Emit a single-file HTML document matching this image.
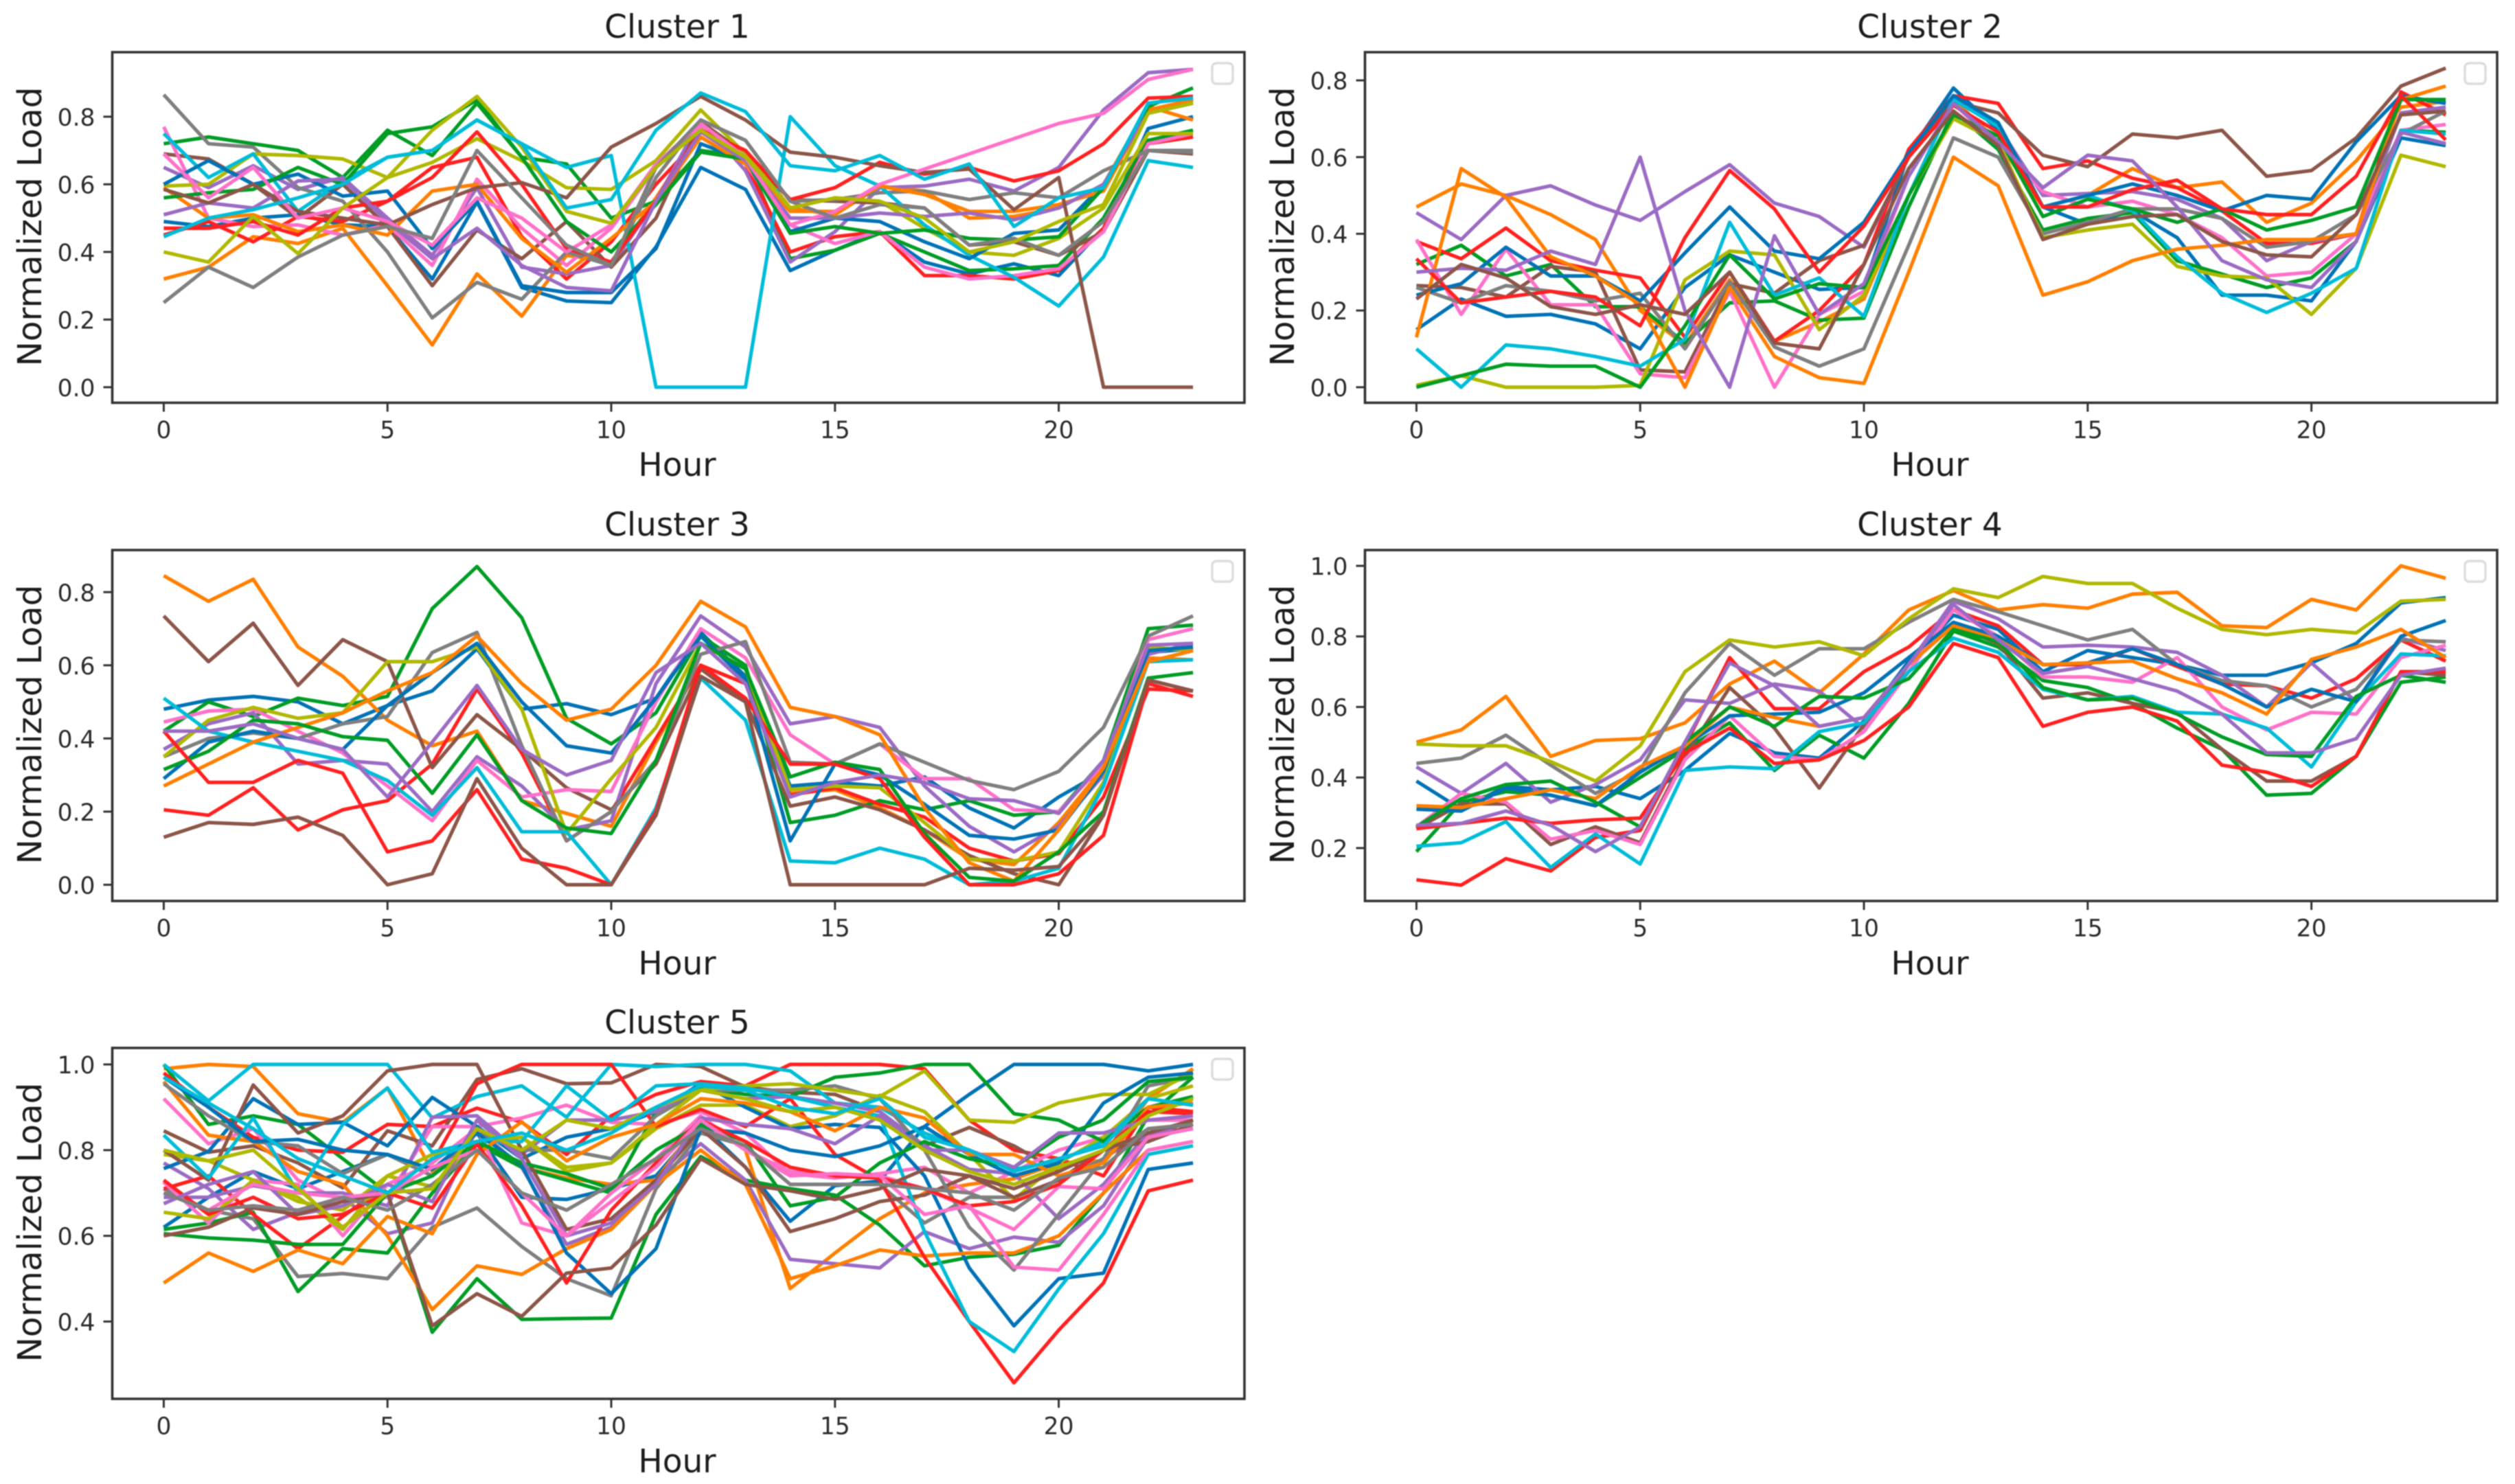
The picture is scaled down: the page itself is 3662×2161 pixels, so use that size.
<!DOCTYPE html>
<html lang="en">
<head>
<meta charset="utf-8">
<title>Normalized Load Clusters</title>
<style>
html,body{margin:0;padding:0;background:#fff;width:3662px;height:2161px;overflow:hidden}
svg{display:block;filter:blur(0.7px)}
text{font-family:"DejaVu Sans","Liberation Sans",sans-serif;fill:#1c1c1c}
.title,.xlabel{font-size:47px;text-anchor:middle}
.ylabel{font-size:48.5px;text-anchor:middle}
.tick{font-size:34.5px;fill:#2a2a2a}
.frame{fill:none;stroke:#333;stroke-width:3.6}
.legend{fill:#fff;stroke:#dcdcdc;stroke-width:3.4}
</style>
</head>
<body>
<svg id="chart" xmlns="http://www.w3.org/2000/svg" width="3662" height="2161" viewBox="0 0 3662 2161">
<rect x="0" y="0" width="3662" height="2161" fill="#fff"/>
<g id="plots"></g>
<g>
<text class="title" x="986" y="55">Cluster 1</text>
<text class="xlabel" x="986" y="693">Hour</text>
<text class="ylabel" transform="translate(60 330) rotate(-90)">Normalized Load</text>
</g>
<g>
<text class="title" x="2810" y="55">Cluster 2</text>
<text class="xlabel" x="2810" y="693">Hour</text>
<text class="ylabel" transform="translate(1884 330) rotate(-90)">Normalized Load</text>
</g>
<g>
<text class="title" x="986" y="780">Cluster 3</text>
<text class="xlabel" x="986" y="1419">Hour</text>
<text class="ylabel" transform="translate(60 1055) rotate(-90)">Normalized Load</text>
</g>
<g>
<text class="title" x="2810" y="780">Cluster 4</text>
<text class="xlabel" x="2810" y="1419">Hour</text>
<text class="ylabel" transform="translate(1884 1055) rotate(-90)">Normalized Load</text>
</g>
<g>
<text class="title" x="986" y="1505">Cluster 5</text>
<text class="xlabel" x="986" y="2144">Hour</text>
<text class="ylabel" transform="translate(60 1780) rotate(-90)">Normalized Load</text>
</g>
</svg>
<script>
const hours = [0,1,2,3,4,5,6,7,8,9,10,11,12,13,14,15,16,17,18,19,20,21,22,23];
const xTickValues = [0,5,10,15,20];
const xAxisMin = -1.15;
const xAxisMax = 24.15;
const yAxisMin = [-0.046,-0.0405,-0.0443,0.05,0.2196];
const yAxisMax = [0.9907,0.8735,0.915,1.0448,1.0385];
const cluster1Ticks = [0,0.2,0.4,0.6,0.8];
const cluster2Ticks = [0,0.2,0.4,0.6,0.8];
const cluster3Ticks = [0,0.2,0.4,0.6,0.8];
const cluster4Ticks = [0.2,0.4,0.6,0.8,1.0];
const cluster5Ticks = [0.4,0.6,0.8,1.0];

const cluster1Series = [
[.49,.475,.50,.51,.48,.475,.32,.548,.295,.255,.25,.415,.65,.585,.345,.405,.46,.37,.335,.365,.33,.47,.765,.80],
[.32,.355,.445,.425,.47,.30,.125,.335,.21,.39,.37,.56,.76,.70,.53,.51,.595,.58,.50,.505,.53,.60,.83,.79],
[.72,.74,.72,.70,.62,.76,.685,.84,.68,.66,.50,.55,.70,.68,.38,.405,.455,.40,.345,.35,.36,.50,.73,.76],
[.45,.49,.43,.505,.49,.55,.65,.68,.445,.32,.43,.60,.74,.66,.40,.445,.46,.33,.33,.32,.345,.47,.72,.74],
[.65,.59,.655,.585,.62,.50,.39,.59,.355,.335,.36,.55,.79,.64,.37,.46,.59,.595,.615,.58,.65,.82,.93,.94],
[.69,.675,.60,.50,.60,.475,.30,.465,.38,.49,.355,.50,.785,.69,.555,.55,.545,.53,.42,.43,.39,.46,.70,.69],
[.77,.50,.475,.48,.45,.48,.36,.615,.47,.36,.47,.65,.77,.66,.48,.425,.46,.355,.32,.33,.35,.46,.72,.75],
[.865,.72,.71,.59,.55,.40,.205,.31,.26,.40,.36,.62,.79,.73,.55,.555,.575,.58,.555,.575,.56,.64,.70,.70],
[.595,.60,.69,.685,.675,.62,.665,.735,.67,.59,.585,.67,.82,.69,.53,.56,.55,.47,.40,.39,.44,.53,.75,.75],
[.75,.62,.69,.52,.61,.68,.70,.79,.72,.65,.685,0,0,0,.80,.655,.595,.48,.39,.325,.24,.385,.67,.65],
[.60,.67,.60,.63,.565,.58,.41,.55,.30,.28,.28,.41,.72,.67,.46,.50,.49,.43,.38,.455,.465,.60,.81,.85],
[.59,.50,.51,.46,.48,.45,.58,.60,.44,.34,.44,.55,.74,.66,.52,.52,.595,.57,.52,.52,.54,.58,.82,.85],
[.56,.575,.585,.65,.60,.75,.77,.85,.68,.49,.40,.54,.695,.675,.455,.475,.455,.465,.44,.435,.445,.59,.83,.885],
[.47,.47,.49,.45,.53,.55,.62,.755,.60,.41,.37,.55,.76,.70,.555,.59,.665,.63,.65,.61,.64,.72,.855,.86],
[.51,.545,.53,.61,.615,.49,.38,.47,.36,.295,.285,.55,.755,.67,.50,.50,.515,.505,.515,.495,.53,.60,.81,.84],
[.585,.545,.60,.52,.50,.48,.54,.59,.605,.56,.71,.78,.86,.79,.695,.68,.655,.635,.645,.525,.62,0,0,0],
[.69,.56,.65,.50,.53,.49,.42,.56,.50,.40,.48,.66,.78,.68,.48,.52,.60,.645,.69,.735,.78,.81,.91,.94],
[.25,.355,.295,.385,.45,.475,.44,.70,.56,.42,.36,.65,.79,.73,.55,.50,.54,.53,.42,.44,.39,.49,.70,.695],
[.40,.37,.505,.395,.53,.62,.76,.86,.71,.52,.485,.65,.76,.68,.53,.56,.55,.50,.40,.43,.49,.54,.81,.84],
[.445,.50,.525,.56,.60,.68,.70,.79,.72,.53,.555,.76,.87,.815,.655,.64,.685,.615,.66,.475,.56,.59,.84,.855]
];

const cluster2Series = [
[.15,.23,.185,.19,.165,.10,.26,.345,.30,.255,.26,.61,.78,.67,.47,.425,.46,.39,.24,.24,.225,.38,.65,.63],
[.47,.53,.50,.45,.385,.20,.11,.28,.12,.17,.23,.50,.75,.64,.47,.50,.57,.52,.535,.43,.48,.59,.73,.745],
[.32,.37,.29,.32,.21,.21,.115,.22,.225,.175,.18,.47,.72,.62,.41,.44,.455,.33,.295,.26,.285,.38,.67,.665],
[.38,.335,.415,.33,.305,.285,.13,.30,.12,.20,.32,.62,.76,.74,.57,.59,.545,.52,.46,.375,.375,.40,.77,.71],
[.455,.385,.50,.525,.475,.435,.51,.58,.48,.445,.365,.60,.76,.68,.50,.505,.51,.49,.44,.33,.38,.40,.715,.73],
[.265,.26,.235,.315,.30,.045,.04,.27,.245,.33,.37,.60,.745,.715,.605,.575,.66,.65,.67,.55,.565,.65,.785,.832],
[.385,.19,.36,.215,.215,.035,.025,.25,0,.19,.25,.55,.74,.63,.51,.47,.485,.45,.39,.29,.30,.40,.67,.685],
[.26,.22,.265,.25,.225,.245,.10,.275,.105,.055,.10,.37,.65,.60,.40,.43,.465,.465,.44,.365,.38,.45,.66,.72],
[.005,.03,0,0,0,.005,.28,.355,.345,.15,.24,.50,.70,.64,.39,.41,.425,.315,.29,.285,.19,.31,.605,.575],
[.10,0,.11,.10,.08,.055,.125,.43,.24,.285,.185,.50,.75,.68,.47,.50,.46,.34,.245,.195,.245,.31,.67,.66],
[.24,.27,.365,.29,.29,.225,.35,.47,.355,.335,.43,.61,.76,.69,.47,.50,.53,.50,.46,.50,.49,.64,.76,.74],
[.13,.57,.495,.34,.29,.215,0,.26,.08,.025,.01,.30,.60,.525,.24,.275,.33,.36,.37,.385,.385,.40,.75,.785],
[0,.03,.06,.055,.055,0,.16,.345,.23,.27,.26,.50,.71,.655,.445,.49,.465,.43,.465,.41,.435,.47,.75,.75],
[.335,.22,.235,.25,.235,.16,.39,.565,.465,.30,.42,.60,.735,.665,.47,.47,.515,.54,.465,.45,.45,.55,.76,.645],
[.30,.31,.305,.355,.32,.60,.20,0,.395,.19,.27,.55,.74,.64,.52,.605,.59,.47,.33,.28,.26,.38,.665,.635],
[.23,.32,.285,.21,.19,.215,.19,.30,.115,.10,.32,.57,.72,.63,.385,.425,.445,.45,.38,.345,.34,.45,.71,.72]
];

const cluster3Series = [
[.48,.505,.515,.50,.44,.49,.53,.645,.48,.495,.465,.51,.69,.57,.27,.28,.27,.295,.21,.155,.24,.31,.635,.645],
[.845,.775,.835,.65,.57,.45,.38,.42,.23,.195,.16,.39,.60,.55,.25,.26,.21,.15,.07,.055,.17,.32,.62,.615],
[.42,.50,.46,.51,.49,.515,.755,.87,.73,.455,.385,.47,.68,.60,.17,.19,.23,.205,.23,.19,.20,.34,.70,.71],
[.205,.19,.265,.15,.205,.23,.33,.535,.36,.12,.20,.40,.60,.55,.245,.265,.22,.185,.10,.065,.085,.24,.535,.53],
[.37,.44,.47,.33,.34,.33,.20,.35,.27,.15,.175,.55,.735,.65,.44,.46,.43,.27,.16,.09,.16,.30,.63,.66],
[.735,.61,.715,.545,.67,.61,.32,.465,.37,.265,.205,.33,.59,.50,.215,.24,.205,.15,.08,.03,0,.19,.56,.53],
[.445,.475,.48,.42,.36,.27,.175,.34,.24,.26,.255,.50,.70,.62,.41,.33,.385,.29,.29,.205,.20,.33,.67,.70],
[.35,.40,.415,.40,.44,.46,.635,.69,.38,.12,.20,.34,.63,.665,.335,.33,.385,.335,.285,.26,.31,.43,.68,.735],
[.35,.45,.485,.455,.47,.61,.61,.65,.48,.14,.29,.43,.66,.59,.26,.27,.265,.17,.07,.065,.09,.28,.65,.64],
[.51,.42,.39,.365,.34,.285,.19,.32,.145,.145,0,.21,.565,.45,.065,.06,.10,.07,0,.01,.045,.27,.61,.615],
[.29,.39,.42,.40,.37,.49,.58,.66,.50,.38,.36,.51,.68,.56,.12,.33,.30,.22,.135,.125,.15,.31,.64,.65],
[.27,.33,.39,.43,.47,.53,.58,.68,.55,.45,.48,.60,.775,.705,.485,.46,.41,.21,.06,.01,.15,.32,.61,.64],
[.315,.365,.45,.44,.405,.395,.25,.41,.23,.155,.14,.34,.66,.59,.295,.335,.315,.14,.02,.01,.09,.20,.565,.58],
[.42,.28,.28,.34,.305,.09,.12,.26,.07,.045,0,.20,.60,.51,.33,.33,.29,.13,0,0,.03,.135,.55,.515],
[.42,.42,.44,.40,.37,.24,.39,.545,.37,.30,.34,.58,.66,.55,.24,.28,.30,.28,.235,.23,.195,.34,.655,.66],
[.13,.17,.165,.185,.135,0,.03,.29,.10,0,0,.19,.57,.50,0,0,0,0,.045,.04,.05,.19,.56,.53]
];

const cluster4Series = [
[.39,.31,.375,.365,.375,.34,.42,.525,.47,.455,.56,.73,.86,.82,.70,.76,.74,.72,.69,.69,.725,.78,.895,.91],
[.50,.535,.63,.46,.505,.51,.555,.665,.73,.64,.75,.875,.93,.875,.89,.88,.92,.925,.83,.825,.905,.875,1.0,.965],
[.19,.33,.36,.35,.32,.40,.48,.555,.42,.52,.455,.61,.815,.77,.675,.655,.61,.54,.48,.35,.355,.46,.67,.685],
[.11,.095,.17,.135,.23,.25,.49,.74,.595,.595,.70,.77,.875,.83,.72,.72,.765,.715,.665,.66,.625,.68,.79,.73],
[.43,.355,.44,.33,.38,.45,.62,.61,.665,.645,.54,.72,.90,.85,.77,.775,.77,.755,.69,.60,.725,.615,.795,.76],
[.255,.325,.325,.21,.26,.215,.46,.655,.54,.37,.55,.72,.83,.78,.625,.64,.61,.585,.48,.39,.39,.46,.70,.69],
[.26,.355,.33,.225,.25,.21,.45,.575,.46,.45,.53,.70,.875,.80,.685,.685,.67,.74,.60,.535,.585,.58,.74,.775],
[.44,.455,.52,.435,.355,.42,.64,.78,.69,.765,.765,.84,.905,.87,.83,.79,.82,.72,.675,.66,.60,.65,.79,.785],
[.495,.49,.49,.445,.39,.49,.70,.79,.77,.785,.745,.85,.935,.91,.97,.95,.95,.88,.82,.805,.82,.81,.90,.905],
[.205,.215,.275,.145,.24,.155,.42,.43,.425,.53,.555,.70,.795,.755,.65,.62,.63,.585,.58,.54,.43,.615,.75,.745],
[.31,.305,.37,.35,.32,.415,.49,.575,.58,.585,.64,.74,.84,.80,.72,.725,.765,.72,.665,.60,.65,.615,.80,.845],
[.32,.315,.34,.365,.34,.43,.49,.60,.57,.545,.57,.72,.83,.79,.72,.725,.73,.68,.64,.58,.735,.77,.82,.74],
[.26,.34,.38,.39,.33,.26,.50,.60,.545,.63,.625,.68,.82,.785,.655,.62,.625,.58,.515,.465,.46,.63,.69,.67],
[.255,.27,.285,.27,.28,.285,.47,.54,.44,.45,.505,.60,.78,.74,.545,.585,.60,.56,.435,.415,.375,.46,.70,.70],
[.265,.27,.305,.265,.19,.26,.50,.725,.66,.545,.57,.72,.89,.79,.695,.715,.68,.645,.58,.47,.47,.51,.69,.71]
];

const cluster5Series = [
[.62,.69,.75,.71,.75,.79,.74,.84,.69,.685,.71,.74,.86,.76,.634,.717,.728,.855,.93,1,1,1,.985,1],
[.99,1,.995,.885,.865,.945,.75,.815,.76,.735,.72,.73,.87,.80,.477,.56,.64,.70,.72,.733,.77,.775,.92,.99],
[1,.86,.88,.86,.78,.70,.375,.50,.405,.407,.408,.65,.785,.73,.71,.695,.625,.53,.55,.557,.578,.70,.88,.97],
[.98,.90,.83,.80,.795,.86,.855,.898,.865,.79,.88,.93,.96,.95,1,1,1,.99,.87,.80,.78,.74,.90,.89],
[.77,.71,.615,.655,.69,.605,.63,.85,.76,.58,.62,.73,.815,.73,.545,.535,.525,.61,.57,.597,.585,.67,.83,.87],
[.845,.795,.81,.77,.712,.845,.81,.965,.99,.955,.957,1,.995,.947,.935,.93,.89,.81,.853,.81,.75,.80,.83,.87],
[.92,.815,.85,.73,.68,.69,.855,.855,.875,.905,.865,.86,.89,.84,.745,.735,.745,.76,.70,.75,.80,.83,.87,.87],
[.71,.66,.64,.505,.512,.50,.62,.665,.575,.50,.46,.71,.84,.81,.72,.72,.72,.63,.69,.69,.73,.78,.85,.86],
[.79,.775,.73,.68,.66,.74,.715,.82,.83,.76,.77,.85,.905,.905,.855,.88,.928,.89,.79,.685,.77,.83,.92,.95],
[1,.915,1,1,1,1,.875,.925,.95,.877,1,.995,1,1,.985,.91,.90,.84,.80,.755,.775,.82,.92,.905],
[.757,.797,.92,.86,.865,.81,.923,.855,.78,.83,.85,.89,.955,.90,.85,.86,.853,.74,.525,.39,.50,.513,.755,.77],
[.96,.835,.82,.75,.72,.60,.428,.53,.51,.57,.615,.72,.80,.72,.50,.53,.567,.553,.56,.56,.60,.70,.80,.82],
[.615,.63,.655,.47,.57,.56,.70,.815,.76,.73,.70,.89,.945,.93,.925,.97,.98,1,1,.885,.87,.82,.90,.925],
[.71,.74,.65,.57,.645,.72,.77,.955,1,1,1,.855,.895,.855,.92,.79,.73,.55,.40,.257,.38,.49,.705,.73],
[.69,.69,.717,.70,.70,.67,.877,.88,.79,.87,.87,.89,.94,.92,.925,.91,.89,.81,.755,.745,.64,.72,.84,.85],
[.80,.73,.952,.84,.88,.985,1,1,.80,.615,.64,.73,.85,.76,.61,.64,.68,.695,.74,.69,.73,.80,.82,.86],
[.725,.63,.73,.72,.60,.72,.77,.85,.63,.60,.70,.78,.88,.80,.75,.74,.74,.71,.665,.615,.715,.71,.83,.85],
[.955,.88,.82,.81,.745,.79,.74,.84,.80,.80,.78,.88,.94,.94,.94,.95,.92,.80,.62,.52,.65,.78,.95,.97],
[.655,.64,.73,.69,.615,.74,.79,.82,.83,.75,.77,.86,.94,.95,.955,.94,.925,.985,.87,.865,.91,.93,.93,.98],
[.835,.735,.875,.70,.86,.945,.795,.82,.82,.95,.87,.95,.955,.945,.925,.90,.88,.61,.40,.33,.476,.605,.79,.81],
[.97,.90,.82,.825,.80,.79,.755,.84,.765,.56,.465,.57,.85,.84,.80,.785,.81,.855,.79,.74,.77,.91,.97,.98],
[.49,.56,.517,.567,.535,.645,.605,.79,.866,.775,.83,.86,.92,.91,.89,.845,.90,.875,.79,.79,.74,.77,.90,.91],
[.605,.595,.59,.58,.58,.70,.74,.82,.77,.745,.71,.80,.86,.82,.67,.69,.77,.82,.78,.76,.83,.87,.96,.97],
[.73,.65,.69,.64,.65,.70,.665,.815,.67,.49,.66,.77,.87,.82,.76,.74,.735,.71,.67,.68,.72,.80,.89,.885],
[.675,.72,.75,.65,.67,.72,.68,.87,.78,.60,.63,.72,.875,.86,.85,.815,.88,.80,.80,.76,.84,.84,.87,.88],
[.60,.62,.665,.65,.68,.70,.39,.465,.412,.513,.525,.625,.78,.72,.705,.685,.71,.755,.74,.71,.75,.80,.84,.87],
[.70,.66,.72,.70,.69,.70,.76,.80,.70,.60,.68,.76,.87,.80,.74,.745,.74,.65,.67,.527,.52,.65,.80,.82],
[.70,.66,.67,.66,.69,.66,.72,.80,.70,.66,.72,.78,.85,.81,.72,.72,.72,.71,.70,.66,.735,.76,.85,.86],
[.80,.775,.80,.71,.62,.70,.71,.85,.80,.87,.85,.90,.94,.92,.89,.90,.87,.80,.75,.72,.76,.80,.88,.92],
[.97,.91,.85,.78,.74,.70,.78,.82,.84,.80,.84,.90,.95,.94,.90,.885,.92,.83,.80,.75,.78,.81,.92,.905]
];

const clusterSeries = [cluster1Series,cluster2Series,cluster3Series,cluster4Series,cluster5Series];
const clusterTicks = [cluster1Ticks,cluster2Ticks,cluster3Ticks,cluster4Ticks,cluster5Ticks];
const lineColors = ['#0072b5','#ff7f00','#009c24','#ff2020','#9b6bc4','#8c5548','#ff70c8','#7f7f7f','#b0b800','#00bcd8'];
const panels = [
  {left:163.5,right:1812,top:76,bottom:586.5},
  {left:1987.5,right:3636,top:76,bottom:586.5},
  {left:163.5,right:1812,top:801,bottom:1312},
  {left:1987.5,right:3636,top:801,bottom:1312},
  {left:163.5,right:1812,top:1526,bottom:2037}
];

const SVG_NS = 'http://www.w3.org/2000/svg';
const root = document.getElementById('plots');

function xScale(panel, hour) {
  return panel.left + (hour - xAxisMin) / (xAxisMax - xAxisMin) * (panel.right - panel.left);
}
function yScale(panel, index, value) {
  return panel.bottom - (value - yAxisMin[index]) / (yAxisMax[index] - yAxisMin[index]) * (panel.bottom - panel.top);
}

panels.forEach(function (panel, index) {
  const clusterNo = index + 1;
  const group = document.createElementNS(SVG_NS, 'g');
  
  
  root.appendChild(group);

  const bg = document.createElementNS(SVG_NS, 'rect');
  
  
  bg.setAttribute('x', panel.left);
  bg.setAttribute('y', panel.top);
  bg.setAttribute('width', panel.right - panel.left);
  bg.setAttribute('height', panel.bottom - panel.top);
  bg.setAttribute('fill', '#fff');
  group.appendChild(bg);

  clusterSeries[index].forEach(function (values, seriesIndex) {
    const points = values.map(function (value, i) {
      return xScale(panel, hours[i]).toFixed(1) + ',' + yScale(panel, index, value).toFixed(1);
    }).join(' ');
    const line = document.createElementNS(SVG_NS, 'polyline');
    
    
    line.setAttribute('points', points);
    line.setAttribute('fill', 'none');
    line.setAttribute('stroke', lineColors[seriesIndex % lineColors.length]);
    line.setAttribute('stroke-width', '5.2');
    line.setAttribute('stroke-linejoin', 'round');
    group.appendChild(line);
  });

  const frame = document.createElementNS(SVG_NS, 'rect');
  
  
  frame.setAttribute('class', 'frame');
  frame.setAttribute('x', panel.left);
  frame.setAttribute('y', panel.top);
  frame.setAttribute('width', panel.right - panel.left);
  frame.setAttribute('height', panel.bottom - panel.top);
  group.appendChild(frame);

  const legend = document.createElementNS(SVG_NS, 'rect');
  
  
  legend.setAttribute('class', 'legend');
  legend.setAttribute('x', panel.right - 47);
  legend.setAttribute('y', panel.top + 16);
  legend.setAttribute('width', 30);
  legend.setAttribute('height', 30);
  legend.setAttribute('rx', 6);
  group.appendChild(legend);

  xTickValues.forEach(function (tick) {
    const px = xScale(panel, tick);
    const mark = document.createElementNS(SVG_NS, 'line');
    
    
    mark.setAttribute('x1', px);
    mark.setAttribute('x2', px);
    mark.setAttribute('y1', panel.bottom);
    mark.setAttribute('y2', panel.bottom + 13);
    mark.setAttribute('stroke', '#333');
    mark.setAttribute('stroke-width', '3');
    group.appendChild(mark);
    const label = document.createElementNS(SVG_NS, 'text');
    
    
    label.setAttribute('class', 'tick');
    label.setAttribute('x', px);
    label.setAttribute('y', panel.bottom + 51.5);
    label.setAttribute('text-anchor', 'middle');
    label.textContent = String(tick);
    group.appendChild(label);
  });

  clusterTicks[index].forEach(function (tick) {
    const py = yScale(panel, index, tick);
    const mark = document.createElementNS(SVG_NS, 'line');
    
    
    mark.setAttribute('x1', panel.left - 13);
    mark.setAttribute('x2', panel.left);
    mark.setAttribute('y1', py);
    mark.setAttribute('y2', py);
    mark.setAttribute('stroke', '#333');
    mark.setAttribute('stroke-width', '3');
    group.appendChild(mark);
    const label = document.createElementNS(SVG_NS, 'text');
    
    
    label.setAttribute('class', 'tick');
    label.setAttribute('x', panel.left - 25);
    label.setAttribute('y', py + 13);
    label.setAttribute('text-anchor', 'end');
    label.textContent = tick.toFixed(1);
    group.appendChild(label);
  });
});
</script>
</body>
</html>
